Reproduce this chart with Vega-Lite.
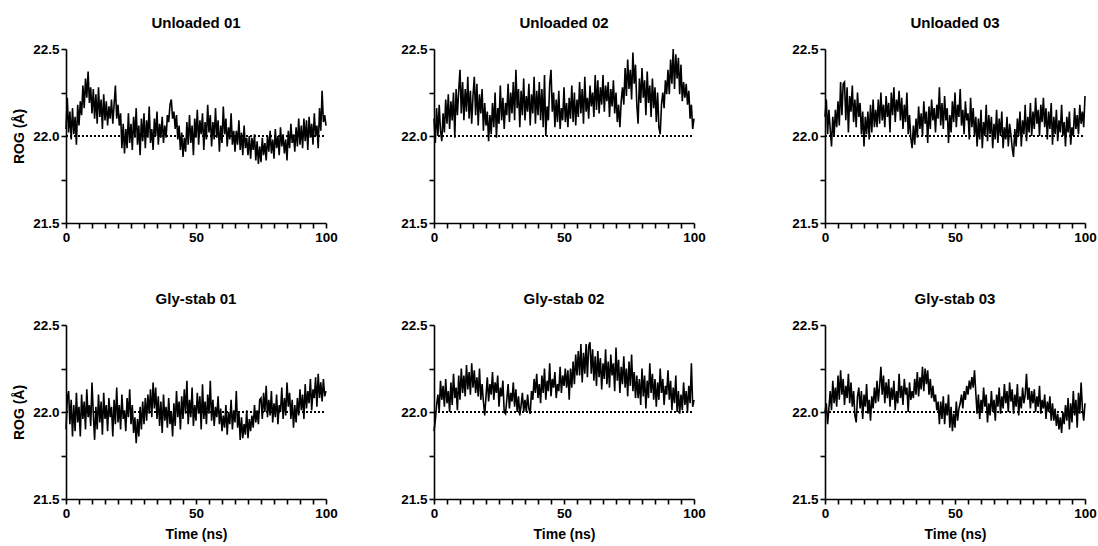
{
"$schema": "https://vega.github.io/schema/vega-lite/v6.json",
"padding": {"left": 12, "top": 16, "right": 0, "bottom": 0},
"background": "white",
"data": {"values": [
{"t":0,"a":22.04,"b":22.10,"c":22.11,"d":21.90,"e":21.89,"f":22.00},
{"t":0.5,"a":22.22,"b":21.96,"c":22.21,"d":22.08,"e":21.95,"f":22.05},
{"t":1,"a":22.02,"b":22.16,"c":22.01,"d":22.12,"e":22.04,"f":21.93},
{"t":1.5,"a":22.14,"b":22.00,"c":22.15,"d":21.93,"e":22.10,"f":22.02},
{"t":2,"a":21.98,"b":22.18,"c":22.04,"d":22.07,"e":22.00,"f":22.12},
{"t":2.5,"a":22.16,"b":22.03,"c":21.94,"d":21.86,"e":22.18,"f":22.01},
{"t":3,"a":22.01,"b":21.97,"c":22.11,"d":22.04,"e":22.07,"f":22.18},
{"t":3.5,"a":22.11,"b":22.13,"c":22.00,"d":21.89,"e":22.15,"f":22.05},
{"t":4,"a":21.95,"b":22.02,"c":22.15,"d":22.11,"e":22.03,"f":22.14},
{"t":4.5,"a":22.18,"b":22.21,"c":22.05,"d":21.94,"e":22.19,"f":22.03},
{"t":5,"a":22.06,"b":22.07,"c":22.20,"d":22.03,"e":22.05,"f":22.21},
{"t":5.5,"a":22.20,"b":22.24,"c":22.06,"d":21.86,"e":22.12,"f":22.07},
{"t":6,"a":22.12,"b":22.04,"c":22.31,"d":22.10,"e":22.00,"f":22.24},
{"t":6.5,"a":22.29,"b":22.20,"c":22.12,"d":21.96,"e":22.17,"f":22.10},
{"t":7,"a":22.16,"b":22.09,"c":22.30,"d":22.06,"e":22.04,"f":22.19},
{"t":7.5,"a":22.33,"b":22.25,"c":22.31,"d":21.90,"e":22.22,"f":22.04},
{"t":8,"a":22.22,"b":21.99,"c":22.09,"d":22.13,"e":22.08,"f":22.15},
{"t":8.5,"a":22.37,"b":22.27,"c":22.28,"d":21.97,"e":22.14,"f":22.08},
{"t":9,"a":22.19,"b":22.12,"c":22.02,"d":22.04,"e":22.01,"f":22.22},
{"t":9.5,"a":22.28,"b":22.26,"c":22.23,"d":21.92,"e":22.21,"f":22.05},
{"t":10,"a":22.13,"b":22.38,"c":22.14,"d":22.17,"e":22.07,"f":22.17},
{"t":10.5,"a":22.27,"b":22.13,"c":22.29,"d":21.99,"e":22.25,"f":22.03},
{"t":11,"a":22.10,"b":22.31,"c":22.08,"d":21.84,"e":22.11,"f":22.12},
{"t":11.5,"a":22.24,"b":22.09,"c":22.21,"d":22.03,"e":22.21,"f":21.98},
{"t":12,"a":22.07,"b":22.27,"c":22.05,"d":21.90,"e":22.09,"f":21.94},
{"t":12.5,"a":22.28,"b":22.14,"c":22.25,"d":22.10,"e":22.27,"f":22.09},
{"t":13,"a":22.11,"b":22.34,"c":22.11,"d":21.94,"e":22.13,"f":22.14},
{"t":13.5,"a":22.21,"b":22.10,"c":22.19,"d":22.06,"e":22.23,"f":22.02},
{"t":14,"a":22.04,"b":22.26,"c":22.01,"d":21.87,"e":22.10,"f":22.12},
{"t":14.5,"a":22.24,"b":22.07,"c":22.14,"d":22.11,"e":22.28,"f":21.96},
{"t":15,"a":22.09,"b":22.23,"c":21.94,"d":21.96,"e":22.14,"f":22.10},
{"t":15.5,"a":22.20,"b":22.34,"c":22.11,"d":22.04,"e":22.24,"f":22.03},
{"t":16,"a":22.06,"b":22.12,"c":22.01,"d":21.89,"e":22.11,"f":22.16},
{"t":16.5,"a":22.17,"b":22.30,"c":22.14,"d":22.08,"e":22.20,"f":21.99},
{"t":17,"a":22.10,"b":22.06,"c":21.98,"d":21.97,"e":22.09,"f":22.07},
{"t":17.5,"a":22.21,"b":22.24,"c":22.18,"d":22.03,"e":22.25,"f":21.95},
{"t":18,"a":22.07,"b":22.13,"c":22.02,"d":21.86,"e":22.07,"f":22.09},
{"t":18.5,"a":22.18,"b":22.27,"c":22.21,"d":22.07,"e":22.16,"f":22.02},
{"t":19,"a":22.29,"b":22.03,"c":22.05,"d":21.93,"e":22.06,"f":22.14},
{"t":19.5,"a":22.10,"b":22.19,"c":22.15,"d":22.14,"e":21.98,"f":22.05},
{"t":20,"a":22.18,"b":22.06,"c":22.05,"d":21.94,"e":22.09,"f":22.18},
{"t":20.5,"a":22.06,"b":22.14,"c":22.21,"d":22.04,"e":22.20,"f":22.06},
{"t":21,"a":22.13,"b":21.97,"c":22.07,"d":21.90,"e":22.06,"f":22.15},
{"t":21.5,"a":21.93,"b":22.12,"c":22.25,"d":22.10,"e":22.16,"f":22.26},
{"t":22,"a":22.07,"b":22.01,"c":22.09,"d":21.96,"e":22.10,"f":22.10},
{"t":22.5,"a":21.90,"b":22.19,"c":22.18,"d":22.01,"e":22.23,"f":22.21},
{"t":23,"a":22.04,"b":22.05,"c":22.05,"d":21.89,"e":22.07,"f":22.05},
{"t":23.5,"a":21.93,"b":22.25,"c":22.23,"d":22.08,"e":22.17,"f":22.17},
{"t":24,"a":22.13,"b":21.99,"c":22.11,"d":21.97,"e":22.11,"f":22.08},
{"t":24.5,"a":21.96,"b":22.16,"c":22.19,"d":22.13,"e":22.21,"f":22.19},
{"t":25,"a":22.07,"b":22.07,"c":22.02,"d":21.93,"e":22.03,"f":22.03},
{"t":25.5,"a":21.92,"b":22.29,"c":22.25,"d":22.04,"e":22.14,"f":22.14},
{"t":26,"a":22.11,"b":22.09,"c":22.12,"d":21.88,"e":22.09,"f":22.07},
{"t":26.5,"a":21.99,"b":22.22,"c":22.28,"d":21.97,"e":22.18,"f":22.18},
{"t":27,"a":22.16,"b":22.04,"c":22.08,"d":21.82,"e":22.00,"f":22.01},
{"t":27.5,"a":21.95,"b":22.19,"c":22.21,"d":21.96,"e":21.99,"f":22.12},
{"t":28,"a":22.06,"b":22.12,"c":22.14,"d":21.86,"e":22.07,"f":22.05},
{"t":28.5,"a":21.89,"b":22.30,"c":22.26,"d":22.03,"e":22.16,"f":22.22},
{"t":29,"a":22.10,"b":22.08,"c":22.09,"d":21.90,"e":22.02,"f":22.08},
{"t":29.5,"a":21.97,"b":22.25,"c":22.22,"d":22.06,"e":22.11,"f":22.15},
{"t":30,"a":22.13,"b":22.13,"c":22.04,"d":21.93,"e":22.06,"f":22.04},
{"t":30.5,"a":21.93,"b":22.31,"c":22.18,"d":22.08,"e":22.17,"f":22.19},
{"t":31,"a":22.09,"b":22.09,"c":22.08,"d":21.95,"e":22.03,"f":22.10},
{"t":31.5,"a":21.99,"b":22.38,"c":22.25,"d":22.10,"e":22.13,"f":22.14},
{"t":32,"a":22.17,"b":22.16,"c":22.01,"d":21.99,"e":22.00,"f":22.00},
{"t":32.5,"a":21.96,"b":22.27,"c":22.12,"d":22.13,"e":22.09,"f":22.17},
{"t":33,"a":22.04,"b":22.05,"c":21.99,"d":21.97,"e":21.98,"f":22.07},
{"t":33.5,"a":21.92,"b":22.26,"c":21.93,"d":22.17,"e":22.04,"f":22.12},
{"t":34,"a":22.10,"b":22.12,"c":22.06,"d":22.02,"e":22.11,"f":22.08},
{"t":34.5,"a":22.00,"b":22.33,"c":21.95,"d":22.14,"e":22.00,"f":22.19},
{"t":35,"a":22.14,"b":22.09,"c":22.10,"d":21.96,"e":22.07,"f":22.10},
{"t":35.5,"a":21.95,"b":22.23,"c":21.99,"d":22.09,"e":22.00,"f":22.23},
{"t":36,"a":22.07,"b":22.14,"c":22.17,"d":21.92,"e":22.10,"f":22.09},
{"t":36.5,"a":21.99,"b":22.30,"c":22.04,"d":22.06,"e":22.02,"f":22.20},
{"t":37,"a":22.11,"b":22.06,"c":22.13,"d":21.88,"e":21.99,"f":22.13},
{"t":37.5,"a":21.96,"b":22.24,"c":22.00,"d":22.10,"e":22.12,"f":22.26},
{"t":38,"a":22.06,"b":22.13,"c":22.20,"d":21.95,"e":22.07,"f":22.12},
{"t":38.5,"a":21.99,"b":22.34,"c":22.07,"d":22.03,"e":22.19,"f":22.25},
{"t":39,"a":22.12,"b":22.07,"c":22.14,"d":21.91,"e":22.11,"f":22.16},
{"t":39.5,"a":22.08,"b":22.26,"c":21.96,"d":22.08,"e":22.22,"f":22.24},
{"t":40,"a":22.18,"b":22.12,"c":22.17,"d":21.93,"e":22.08,"f":22.10},
{"t":40.5,"a":22.21,"b":22.31,"c":22.04,"d":22.00,"e":22.16,"f":22.19},
{"t":41,"a":22.10,"b":22.09,"c":22.21,"d":21.86,"e":22.05,"f":22.08},
{"t":41.5,"a":22.14,"b":22.27,"c":22.09,"d":22.05,"e":22.21,"f":22.15},
{"t":42,"a":22.04,"b":22.05,"c":22.16,"d":21.92,"e":22.11,"f":22.06},
{"t":42.5,"a":22.12,"b":22.35,"c":22.02,"d":22.12,"e":22.25,"f":22.10},
{"t":43,"a":21.98,"b":22.00,"c":22.18,"d":21.97,"e":22.07,"f":22.01},
{"t":43.5,"a":22.06,"b":22.17,"c":22.10,"d":22.06,"e":22.18,"f":22.06},
{"t":44,"a":21.92,"b":22.09,"c":22.28,"d":21.90,"e":22.12,"f":21.93},
{"t":44.5,"a":22.02,"b":22.30,"c":22.06,"d":22.09,"e":22.28,"f":22.06},
{"t":45,"a":21.88,"b":22.38,"c":22.19,"d":21.96,"e":22.09,"f":21.96},
{"t":45.5,"a":21.99,"b":22.14,"c":22.04,"d":22.13,"e":22.19,"f":22.09},
{"t":46,"a":21.91,"b":22.25,"c":22.23,"d":21.99,"e":22.14,"f":21.93},
{"t":46.5,"a":22.08,"b":22.05,"c":22.09,"d":22.18,"e":22.23,"f":22.05},
{"t":47,"a":21.95,"b":22.21,"c":22.16,"d":21.93,"e":22.08,"f":21.98},
{"t":47.5,"a":22.12,"b":22.08,"c":21.96,"d":22.07,"e":22.16,"f":22.10},
{"t":48,"a":21.96,"b":22.26,"c":22.12,"d":21.97,"e":22.12,"f":21.91},
{"t":48.5,"a":22.06,"b":22.04,"c":22.02,"d":22.14,"e":22.26,"f":22.03},
{"t":49,"a":21.89,"b":22.16,"c":22.20,"d":21.92,"e":22.11,"f":21.89},
{"t":49.5,"a":22.10,"b":22.09,"c":22.08,"d":22.04,"e":22.21,"f":21.99},
{"t":50,"a":21.99,"b":22.28,"c":22.25,"d":21.95,"e":22.15,"f":21.91},
{"t":50.5,"a":22.15,"b":22.08,"c":22.05,"d":22.11,"e":22.25,"f":22.06},
{"t":51,"a":21.95,"b":22.19,"c":22.18,"d":21.99,"e":22.14,"f":21.95},
{"t":51.5,"a":22.09,"b":22.05,"c":22.11,"d":22.09,"e":22.24,"f":22.02},
{"t":52,"a":22.01,"b":22.22,"c":22.27,"d":21.90,"e":22.07,"f":22.05},
{"t":52.5,"a":22.13,"b":22.10,"c":22.06,"d":22.16,"e":22.25,"f":22.10},
{"t":53,"a":21.92,"b":22.29,"c":22.15,"d":21.96,"e":22.14,"f":22.02},
{"t":53.5,"a":22.08,"b":22.08,"c":22.01,"d":22.06,"e":22.29,"f":22.12},
{"t":54,"a":21.98,"b":22.25,"c":22.20,"d":21.93,"e":22.16,"f":22.07},
{"t":54.5,"a":22.18,"b":22.06,"c":22.09,"d":22.10,"e":22.33,"f":22.15},
{"t":55,"a":22.02,"b":22.21,"c":22.13,"d":21.99,"e":22.21,"f":22.10},
{"t":55.5,"a":22.12,"b":22.11,"c":21.98,"d":22.18,"e":22.35,"f":22.18},
{"t":56,"a":21.94,"b":22.31,"c":22.22,"d":21.95,"e":22.21,"f":22.13},
{"t":56.5,"a":22.08,"b":22.13,"c":22.05,"d":22.07,"e":22.39,"f":22.20},
{"t":57,"a":21.98,"b":22.27,"c":22.16,"d":21.92,"e":22.17,"f":22.14},
{"t":57.5,"a":22.16,"b":22.07,"c":22.00,"d":22.03,"e":22.34,"f":22.24},
{"t":58,"a":21.99,"b":22.34,"c":22.11,"d":21.97,"e":22.22,"f":22.11},
{"t":58.5,"a":22.09,"b":22.14,"c":21.94,"d":22.09,"e":22.39,"f":21.99},
{"t":59,"a":21.91,"b":22.22,"c":22.10,"d":21.93,"e":22.20,"f":22.10},
{"t":59.5,"a":22.06,"b":22.10,"c":21.98,"d":22.02,"e":22.38,"f":21.96},
{"t":60,"a":21.96,"b":22.29,"c":22.15,"d":21.89,"e":22.40,"f":22.07},
{"t":60.5,"a":22.17,"b":22.17,"c":21.93,"d":21.98,"e":22.22,"f":22.00},
{"t":61,"a":22.01,"b":22.25,"c":22.08,"d":21.91,"e":22.36,"f":22.14},
{"t":61.5,"a":22.10,"b":22.11,"c":22.00,"d":22.04,"e":22.18,"f":22.03},
{"t":62,"a":21.94,"b":22.35,"c":22.18,"d":21.87,"e":22.32,"f":22.10},
{"t":62.5,"a":22.05,"b":22.15,"c":21.97,"d":22.00,"e":22.15,"f":21.94},
{"t":63,"a":21.98,"b":22.32,"c":22.12,"d":21.93,"e":22.35,"f":22.05},
{"t":63.5,"a":22.13,"b":22.13,"c":22.01,"d":22.07,"e":22.20,"f":21.98},
{"t":64,"a":21.95,"b":22.28,"c":22.11,"d":21.90,"e":22.31,"f":22.12},
{"t":64.5,"a":22.03,"b":22.18,"c":21.93,"d":22.01,"e":22.13,"f":22.00},
{"t":65,"a":21.91,"b":22.35,"c":22.07,"d":21.94,"e":22.28,"f":22.07},
{"t":65.5,"a":22.03,"b":22.14,"c":21.98,"d":22.12,"e":22.19,"f":21.95},
{"t":66,"a":21.95,"b":22.29,"c":22.15,"d":21.91,"e":22.36,"f":22.10},
{"t":66.5,"a":22.09,"b":22.20,"c":21.96,"d":22.00,"e":22.16,"f":22.03},
{"t":67,"a":21.92,"b":22.31,"c":22.10,"d":21.84,"e":22.29,"f":22.14},
{"t":67.5,"a":22.02,"b":22.11,"c":22.00,"d":21.97,"e":22.14,"f":21.99},
{"t":68,"a":21.89,"b":22.27,"c":22.14,"d":21.85,"e":22.33,"f":22.09},
{"t":68.5,"a":22.06,"b":22.17,"c":21.93,"d":21.93,"e":22.21,"f":22.02},
{"t":69,"a":21.93,"b":22.32,"c":22.05,"d":21.87,"e":22.28,"f":22.16},
{"t":69.5,"a":21.99,"b":22.13,"c":21.98,"d":22.01,"e":22.12,"f":22.05},
{"t":70,"a":21.89,"b":22.25,"c":22.11,"d":21.85,"e":22.37,"f":22.12},
{"t":70.5,"a":22.00,"b":22.08,"c":21.94,"d":21.96,"e":22.18,"f":22.00},
{"t":71,"a":21.87,"b":22.18,"c":22.07,"d":21.89,"e":22.30,"f":22.17},
{"t":71.5,"a":21.99,"b":22.05,"c":22.01,"d":21.98,"e":22.11,"f":22.06},
{"t":72,"a":21.92,"b":22.20,"c":21.93,"d":21.91,"e":22.26,"f":22.13},
{"t":72.5,"a":22.01,"b":22.28,"c":21.88,"d":22.04,"e":22.16,"f":21.99},
{"t":73,"a":21.86,"b":22.18,"c":22.04,"d":21.94,"e":22.32,"f":22.10},
{"t":73.5,"a":21.97,"b":22.39,"c":21.94,"d":22.01,"e":22.14,"f":22.03},
{"t":74,"a":21.84,"b":22.23,"c":22.10,"d":21.93,"e":22.25,"f":22.16},
{"t":74.5,"a":21.94,"b":22.44,"c":22.00,"d":22.07,"e":22.09,"f":21.98},
{"t":75,"a":21.85,"b":22.27,"c":22.14,"d":22.08,"e":22.29,"f":22.09},
{"t":75.5,"a":21.99,"b":22.38,"c":21.94,"d":21.96,"e":22.15,"f":22.02},
{"t":76,"a":21.89,"b":22.21,"c":22.09,"d":22.11,"e":22.33,"f":22.14},
{"t":76.5,"a":21.96,"b":22.48,"c":22.01,"d":22.00,"e":22.12,"f":22.05},
{"t":77,"a":21.86,"b":22.30,"c":22.18,"d":22.15,"e":22.23,"f":22.10},
{"t":77.5,"a":22.00,"b":22.41,"c":21.97,"d":21.97,"e":22.08,"f":22.22},
{"t":78,"a":21.91,"b":22.18,"c":22.11,"d":22.07,"e":22.21,"f":22.07},
{"t":78.5,"a":22.03,"b":22.07,"c":22.02,"d":21.98,"e":22.08,"f":22.14},
{"t":79,"a":21.90,"b":22.33,"c":22.19,"d":22.12,"e":22.19,"f":22.02},
{"t":79.5,"a":21.98,"b":22.19,"c":22.00,"d":21.94,"e":22.04,"f":22.12},
{"t":80,"a":21.87,"b":22.39,"c":22.14,"d":22.05,"e":22.25,"f":22.05},
{"t":80.5,"a":22.04,"b":22.22,"c":22.04,"d":21.97,"e":22.09,"f":22.13},
{"t":81,"a":21.93,"b":22.32,"c":22.22,"d":22.10,"e":22.21,"f":22.00},
{"t":81.5,"a":22.00,"b":22.12,"c":22.07,"d":21.93,"e":22.02,"f":22.09},
{"t":82,"a":21.89,"b":22.37,"c":22.15,"d":22.04,"e":22.18,"f":22.03},
{"t":82.5,"a":22.05,"b":22.19,"c":22.00,"d":22.00,"e":22.08,"f":22.15},
{"t":83,"a":21.94,"b":22.29,"c":22.18,"d":22.14,"e":22.28,"f":21.99},
{"t":83.5,"a":22.01,"b":22.11,"c":22.08,"d":21.96,"e":22.11,"f":22.07},
{"t":84,"a":21.90,"b":22.33,"c":22.22,"d":22.08,"e":22.22,"f":22.02},
{"t":84.5,"a":21.98,"b":22.16,"c":22.05,"d":21.98,"e":22.07,"f":22.10},
{"t":85,"a":21.86,"b":22.28,"c":22.16,"d":22.17,"e":22.19,"f":21.96},
{"t":85.5,"a":22.03,"b":22.08,"c":21.98,"d":22.03,"e":22.03,"f":22.06},
{"t":86,"a":21.93,"b":22.25,"c":22.14,"d":22.11,"e":22.17,"f":22.00},
{"t":86.5,"a":22.07,"b":22.05,"c":22.04,"d":21.96,"e":22.07,"f":22.09},
{"t":87,"a":21.96,"b":22.01,"c":22.19,"d":22.07,"e":22.25,"f":21.95},
{"t":87.5,"a":22.01,"b":22.18,"c":21.95,"d":21.91,"e":22.11,"f":22.05},
{"t":88,"a":21.91,"b":22.25,"c":22.11,"d":22.04,"e":22.19,"f":21.95},
{"t":88.5,"a":22.05,"b":22.16,"c":22.01,"d":21.94,"e":22.04,"f":22.02},
{"t":89,"a":21.94,"b":22.32,"c":22.15,"d":22.08,"e":22.15,"f":21.92},
{"t":89.5,"a":22.10,"b":22.24,"c":21.97,"d":21.98,"e":22.10,"f":21.99},
{"t":90,"a":21.95,"b":22.38,"c":22.09,"d":22.13,"e":22.24,"f":21.90},
{"t":90.5,"a":22.06,"b":22.24,"c":22.02,"d":22.01,"e":22.07,"f":21.97},
{"t":91,"a":21.93,"b":22.44,"c":22.18,"d":22.10,"e":22.18,"f":21.88},
{"t":91.5,"a":22.10,"b":22.30,"c":22.00,"d":21.96,"e":22.01,"f":22.00},
{"t":92,"a":21.97,"b":22.50,"c":22.08,"d":22.16,"e":22.14,"f":21.93},
{"t":92.5,"a":22.09,"b":22.27,"c":21.94,"d":22.02,"e":22.05,"f":22.04},
{"t":93,"a":21.92,"b":22.47,"c":22.11,"d":22.12,"e":22.21,"f":21.95},
{"t":93.5,"a":22.11,"b":22.33,"c":22.02,"d":22.05,"e":22.00,"f":22.08},
{"t":94,"a":21.99,"b":22.45,"c":22.14,"d":22.19,"e":22.12,"f":21.90},
{"t":94.5,"a":22.07,"b":22.24,"c":21.95,"d":22.01,"e":21.99,"f":22.05},
{"t":95,"a":21.95,"b":22.41,"c":22.05,"d":22.13,"e":22.10,"f":21.94},
{"t":95.5,"a":22.13,"b":22.20,"c":22.00,"d":22.08,"e":22.01,"f":22.12},
{"t":96,"a":22.00,"b":22.31,"c":22.16,"d":22.20,"e":22.17,"f":21.98},
{"t":96.5,"a":22.06,"b":22.22,"c":22.04,"d":22.03,"e":22.04,"f":22.07},
{"t":97,"a":21.93,"b":22.30,"c":22.12,"d":22.22,"e":22.12,"f":21.91},
{"t":97.5,"a":22.16,"b":22.18,"c":22.01,"d":22.08,"e":22.00,"f":22.11},
{"t":98,"a":22.03,"b":22.26,"c":22.18,"d":22.17,"e":22.15,"f":21.99},
{"t":98.5,"a":22.26,"b":22.10,"c":22.07,"d":22.06,"e":22.05,"f":22.17},
{"t":99,"a":22.08,"b":22.18,"c":22.14,"d":22.19,"e":22.28,"f":22.02},
{"t":99.5,"a":22.12,"b":22.04,"c":22.05,"d":22.09,"e":22.03,"f":21.95},
{"t":100,"a":22.06,"b":22.10,"c":22.23,"d":22.12,"e":22.07,"f":22.05}
]},
"columns": 3,
"bounds": "flush",
"spacing": {"row": 102, "column": 108},
"concat": [
{"width": 260, "height": 174, "title": {"text": "Unloaded 01"},
 "layer": [
  {"mark": {"type": "line", "color": "#000", "strokeWidth": 1.6},
   "encoding": {
    "x": {"field": "t", "type": "quantitative", "scale": {"domain": [0, 100], "nice": false}, "axis": {"title": null, "tickCount": 30, "values": [0,5,10,15,20,25,30,35,40,45,50,55,60,65,70,75,80,85,90,95,100], "labelExpr": "datum.value % 50 === 0 ? datum.label : ''", "labelFlush": false, "labelOverlap": false}},
    "y": {"field": "a", "type": "quantitative", "scale": {"domain": [21.5, 22.5], "nice": false}, "axis": {"title": "ROG (Å)", "tickCount": 10, "values": [21.5, 21.75, 22, 22.25, 22.5], "labelExpr": "(datum.value * 2) % 1 === 0 ? format(datum.value, '.1f') : ''", "labelOverlap": false}}}},
  {"mark": {"type": "rule", "color": "#000", "strokeDash": [2, 2], "strokeWidth": 1.3},
   "encoding": {"y": {"datum": 22}, "x": {"datum": 0}, "x2": {"datum": 100}}}
 ]},
{"width": 283, "height": 174, "title": {"text": "Unloaded 02", "dx": -11.5},
 "layer": [
  {"mark": {"type": "line", "color": "#000", "strokeWidth": 1.6},
   "encoding": {
    "x": {"field": "t", "type": "quantitative", "scale": {"domain": [0, 100], "nice": false, "range": [0, 260]}, "axis": {"title": null, "tickCount": 30, "values": [0,5,10,15,20,25,30,35,40,45,50,55,60,65,70,75,80,85,90,95,100], "labelExpr": "datum.value % 50 === 0 ? datum.label : ''", "labelFlush": false, "labelOverlap": false}},
    "y": {"field": "b", "type": "quantitative", "scale": {"domain": [21.5, 22.5], "nice": false}, "axis": {"title": null, "tickCount": 10, "values": [21.5, 21.75, 22, 22.25, 22.5], "labelExpr": "(datum.value * 2) % 1 === 0 ? format(datum.value, '.1f') : ''", "labelOverlap": false}}}},
  {"mark": {"type": "rule", "color": "#000", "strokeDash": [2, 2], "strokeWidth": 1.3},
   "encoding": {"y": {"datum": 22}, "x": {"datum": 0}, "x2": {"datum": 100}}}
 ]},
{"width": 260, "height": 174, "title": {"text": "Unloaded 03"},
 "layer": [
  {"mark": {"type": "line", "color": "#000", "strokeWidth": 1.6},
   "encoding": {
    "x": {"field": "t", "type": "quantitative", "scale": {"domain": [0, 100], "nice": false}, "axis": {"title": null, "tickCount": 30, "values": [0,5,10,15,20,25,30,35,40,45,50,55,60,65,70,75,80,85,90,95,100], "labelExpr": "datum.value % 50 === 0 ? datum.label : ''", "labelFlush": false, "labelOverlap": false}},
    "y": {"field": "c", "type": "quantitative", "scale": {"domain": [21.5, 22.5], "nice": false}, "axis": {"title": null, "tickCount": 10, "values": [21.5, 21.75, 22, 22.25, 22.5], "labelExpr": "(datum.value * 2) % 1 === 0 ? format(datum.value, '.1f') : ''", "labelOverlap": false}}}},
  {"mark": {"type": "rule", "color": "#000", "strokeDash": [2, 2], "strokeWidth": 1.3},
   "encoding": {"y": {"datum": 22}, "x": {"datum": 0}, "x2": {"datum": 100}}}
 ]},
{"width": 260, "height": 174, "title": {"text": "Gly-stab 01"},
 "layer": [
  {"mark": {"type": "line", "color": "#000", "strokeWidth": 1.6},
   "encoding": {
    "x": {"field": "t", "type": "quantitative", "scale": {"domain": [0, 100], "nice": false}, "axis": {"title": "Time (ns)", "tickCount": 30, "values": [0,5,10,15,20,25,30,35,40,45,50,55,60,65,70,75,80,85,90,95,100], "labelExpr": "datum.value % 50 === 0 ? datum.label : ''", "labelFlush": false, "labelOverlap": false}},
    "y": {"field": "d", "type": "quantitative", "scale": {"domain": [21.5, 22.5], "nice": false}, "axis": {"title": "ROG (Å)", "tickCount": 10, "values": [21.5, 21.75, 22, 22.25, 22.5], "labelExpr": "(datum.value * 2) % 1 === 0 ? format(datum.value, '.1f') : ''", "labelOverlap": false}}}},
  {"mark": {"type": "rule", "color": "#000", "strokeDash": [2, 2], "strokeWidth": 1.3},
   "encoding": {"y": {"datum": 22}, "x": {"datum": 0}, "x2": {"datum": 100}}}
 ]},
{"width": 283, "height": 174, "title": {"text": "Gly-stab 02", "dx": -11.5},
 "layer": [
  {"mark": {"type": "line", "color": "#000", "strokeWidth": 1.6},
   "encoding": {
    "x": {"field": "t", "type": "quantitative", "scale": {"domain": [0, 100], "nice": false, "range": [0, 260]}, "axis": {"title": "Time (ns)", "tickCount": 30, "values": [0,5,10,15,20,25,30,35,40,45,50,55,60,65,70,75,80,85,90,95,100], "labelExpr": "datum.value % 50 === 0 ? datum.label : ''", "labelFlush": false, "labelOverlap": false}},
    "y": {"field": "e", "type": "quantitative", "scale": {"domain": [21.5, 22.5], "nice": false}, "axis": {"title": null, "tickCount": 10, "values": [21.5, 21.75, 22, 22.25, 22.5], "labelExpr": "(datum.value * 2) % 1 === 0 ? format(datum.value, '.1f') : ''", "labelOverlap": false}}}},
  {"mark": {"type": "rule", "color": "#000", "strokeDash": [2, 2], "strokeWidth": 1.3},
   "encoding": {"y": {"datum": 22}, "x": {"datum": 0}, "x2": {"datum": 100}}}
 ]},
{"width": 260, "height": 174, "title": {"text": "Gly-stab 03"},
 "layer": [
  {"mark": {"type": "line", "color": "#000", "strokeWidth": 1.6},
   "encoding": {
    "x": {"field": "t", "type": "quantitative", "scale": {"domain": [0, 100], "nice": false}, "axis": {"title": "Time (ns)", "tickCount": 30, "values": [0,5,10,15,20,25,30,35,40,45,50,55,60,65,70,75,80,85,90,95,100], "labelExpr": "datum.value % 50 === 0 ? datum.label : ''", "labelFlush": false, "labelOverlap": false}},
    "y": {"field": "f", "type": "quantitative", "scale": {"domain": [21.5, 22.5], "nice": false}, "axis": {"title": null, "tickCount": 10, "values": [21.5, 21.75, 22, 22.25, 22.5], "labelExpr": "(datum.value * 2) % 1 === 0 ? format(datum.value, '.1f') : ''", "labelOverlap": false}}}},
  {"mark": {"type": "rule", "color": "#000", "strokeDash": [2, 2], "strokeWidth": 1.3},
   "encoding": {"y": {"datum": 22}, "x": {"datum": 0}, "x2": {"datum": 100}}}
 ]}
],
"config": {
 "view": {"stroke": null},
 "font": "Liberation Sans",
 "axis": {"grid": false, "domainColor": "#000", "domainWidth": 1.6, "tickColor": "#000", "tickWidth": 1.6, "tickSize": 5, "labelColor": "#000", "labelFont": "Liberation Sans", "labelFontSize": 13.5, "labelFontWeight": "bold", "labelPadding": 2, "titleColor": "#000", "titleFont": "Liberation Sans", "titleFontSize": 14, "titleFontWeight": "bold"},
 "axisX": {"titlePadding": 8},
 "axisY": {"titlePadding": 6},
 "title": {"fontSize": 15, "fontWeight": "bold", "color": "#000", "font": "Liberation Sans", "frame": "group", "anchor": "middle", "offset": 11}
}
}
